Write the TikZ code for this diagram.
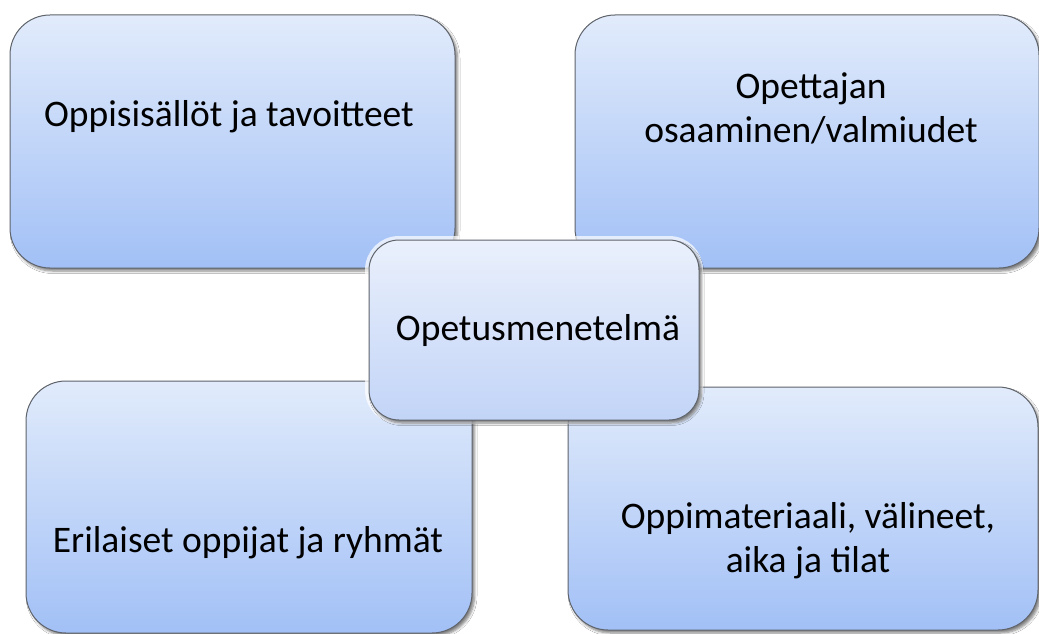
\documentclass[tikz,border=0pt]{standalone}
\usepackage{fontspec}
\setmainfont{Carlito}
\usetikzlibrary{shadows.blur}
\definecolor{boxtop}{HTML}{E1EBFB}
\definecolor{boxbot}{HTML}{A2C0F6}
\definecolor{midtop}{HTML}{EAF0FC}
\definecolor{midbot}{HTML}{C2D4F7}
\definecolor{edge}{HTML}{5F636A}
\tikzset{
  bigbox/.style={rectangle, rounded corners=40pt, draw=edge, line width=1pt,
    top color=boxtop, bottom color=boxbot, inner sep=0pt,
    blur shadow={shadow xshift=2.5pt, shadow yshift=-3pt, shadow blur steps=5, shadow opacity=50, shadow blur radius=2.5pt}},
  midbox/.style={bigbox, rounded corners=30pt, top color=midtop, bottom color=midbot},
  glow/.style={rectangle, rounded corners=30pt, draw=white, line width=8pt, opacity=0.7, inner sep=0pt},
  lbl/.style={font=\fontsize{37.5}{44}\selectfont, align=center, inner sep=0pt, anchor=base, text=black}
}
\begin{document}
\begin{tikzpicture}[x=1pt,y=-1pt]
\useasboundingbox (0,0) rectangle (1039,634);
\clip (0,0) rectangle (1039,634);
\fill[white] (0,0) rectangle (1039,634);
% outer boxes
\node[bigbox, minimum width=445pt, minimum height=253pt] (tl) at (232.5,141.5) {};
\node[bigbox, minimum width=464pt, minimum height=253pt] (tr) at (807,141.5) {};
\node[bigbox, minimum width=446pt, minimum height=252pt] (bl) at (249,507) {};
\node[bigbox, minimum width=470pt, minimum height=243pt] (br) at (803,508.5) {};
% centre
\node[glow, minimum width=330pt, minimum height=180pt] (cg) at (534,330) {};
\node[midbox, minimum width=330pt, minimum height=180pt] (c) at (534,330) {};
% labels
\node[lbl] (tlt) at (229,126) {Oppisisällöt ja tavoitteet};
\node[lbl] (trt1) at (811,99) {Opettajan};
\node[lbl] (trt2) at (811,142) {osaaminen/valmiudet};
\node[lbl] (blt) at (248,552) {Erilaiset oppijat ja ryhmät};
\node[lbl] (brt1) at (808,528) {Oppimateriaali, välineet,};
\node[lbl] (brt2) at (808,572) {aika ja tilat};
\node[lbl] (ct) at (538,340) {Opetusmenetelmä};
\end{tikzpicture}
\end{document}
